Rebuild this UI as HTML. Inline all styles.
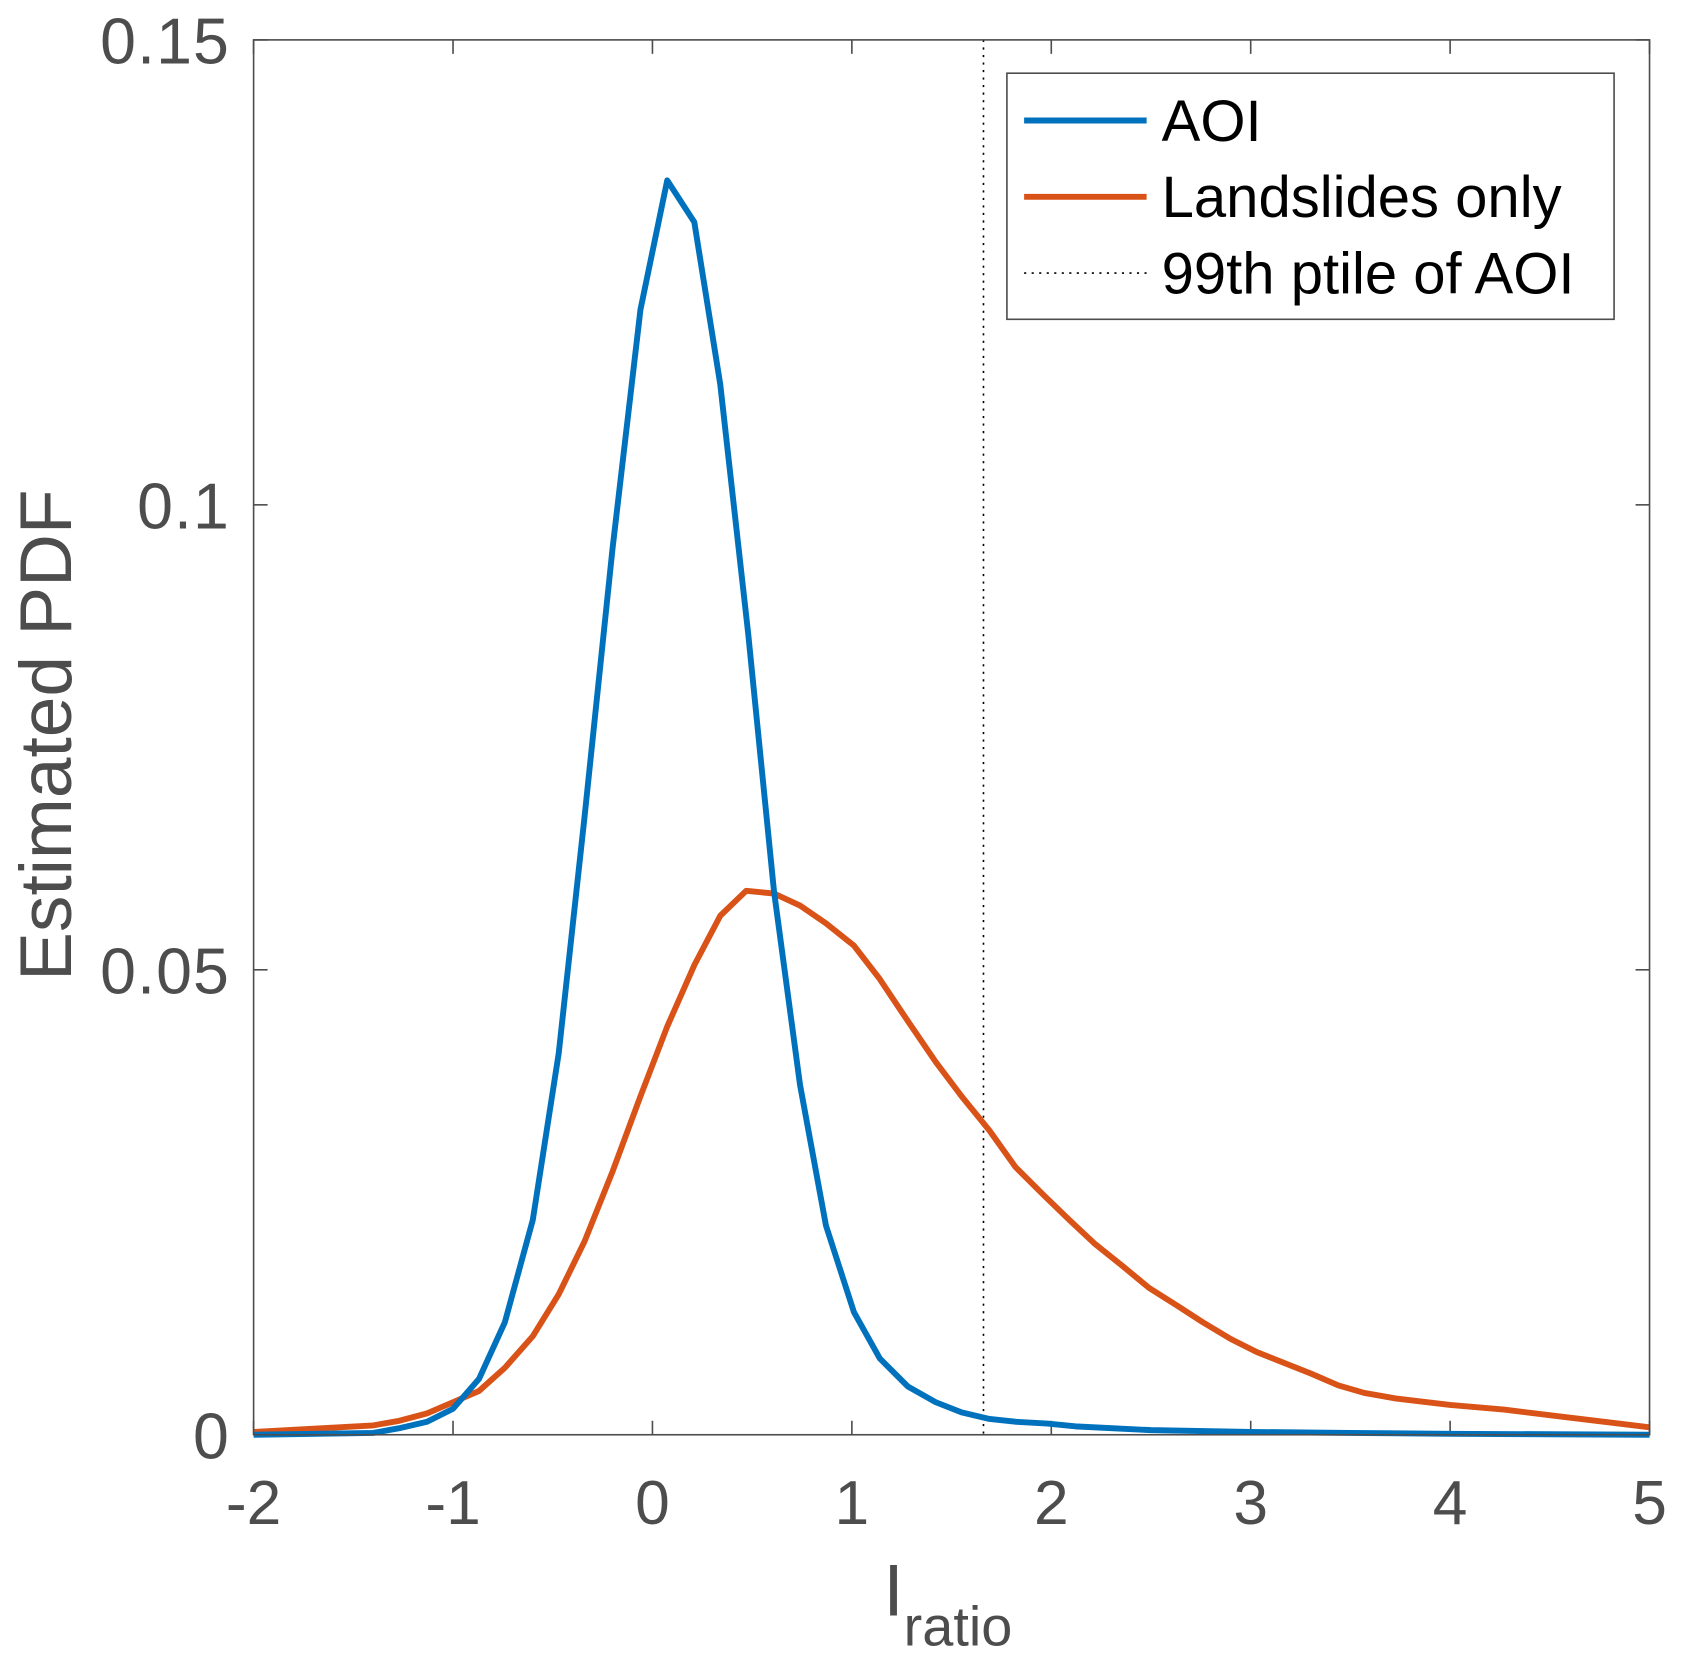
<!DOCTYPE html>
<html><head><meta charset="utf-8"><style>
html,body{margin:0;padding:0;background:#fff;}
svg{display:block;}
text{font-family:"Liberation Sans",sans-serif;}
</style></head><body>
<svg id="chart" width="1685" height="1667" viewBox="0 0 1568 1551" xmlns="http://www.w3.org/2000/svg">
<rect x="0" y="0" width="1568" height="1551" fill="#fff"/>
<g id="plot"></g>
</svg>
<script>
const aoiX=[-2,-1.4,-1.27,-1.13,-1.0,-0.87,-0.74,-0.6,-0.47,-0.34,-0.2,-0.06,0.074,0.21,0.34,0.48,0.61,0.74,0.87,1.01,1.14,1.28,1.42,1.55,1.69,1.82,1.98,2.12,2.5,3,3.5,4,5];
const aoiY=[0,0.0002,0.0007,0.0014,0.0028,0.006,0.0121,0.0231,0.041,0.0665,0.0953,0.121,0.1349,0.1304,0.113,0.0862,0.0584,0.0376,0.0225,0.0132,0.0082,0.0052,0.0035,0.0024,0.0017,0.0014,0.0012,0.0009,0.0005,0.0003,0.0002,0.0001,0];
const lsX=[-2,-1.4,-1.27,-1.13,-1.0,-0.87,-0.74,-0.6,-0.47,-0.34,-0.2,-0.06,0.074,0.21,0.34,0.47,0.61,0.74,0.87,1.01,1.14,1.28,1.42,1.55,1.69,1.82,1.96,2.09,2.22,2.36,2.49,2.63,2.76,2.9,3.03,3.17,3.3,3.44,3.57,3.73,4.0,4.27,4.54,4.81,5];
const lsY=[0.0003,0.001,0.0015,0.0023,0.0035,0.0047,0.0072,0.0106,0.0151,0.0208,0.0283,0.0364,0.0439,0.0505,0.0558,0.0585,0.0582,0.0569,0.055,0.0526,0.049,0.0445,0.0401,0.0364,0.0327,0.0288,0.0258,0.0231,0.0205,0.0181,0.0158,0.0139,0.0121,0.0103,0.0089,0.0077,0.0066,0.0053,0.0045,0.0039,0.0032,0.0027,0.002,0.0013,0.0008];
const ptile99=[1.66];
const xTicks=[-2,-1,0,1,2,3,4,5];
const yTicks=[0,0.05,0.1,0.15];
const yTickLabels=["0","0.05","0.1","0.15"];

const L=236,R=1535,T=37,B=1335;
const sx=v=>L+(v+2)/7*(R-L);
const sy=v=>B-v/0.15*(B-T);
const NS="http://www.w3.org/2000/svg";
const g=document.getElementById('plot');
function mk(tag,attrs,parent){const e=document.createElementNS(NS,tag);for(const k in attrs)e.setAttribute(k,attrs[k]);(parent||g).appendChild(e);return e;}
const ax="#4d4d4d";
xTicks.forEach((t,i)=>{
  mk('line',{x1:sx(t),x2:sx(t),y1:B,y2:B-13,stroke:ax,'stroke-width':1.5});
  mk('line',{x1:sx(t),x2:sx(t),y1:T,y2:T+13,stroke:ax,'stroke-width':1.5});
  const tx=mk('text',{x:sx(t),y:B+83,'text-anchor':'middle','font-size':58,fill:ax});
  tx.textContent=String(t);
  
  
});
yTicks.forEach((t,i)=>{
  mk('line',{x1:L,x2:L+13,y1:sy(t),y2:sy(t),stroke:ax,'stroke-width':1.5});
  mk('line',{x1:R,x2:R-13,y1:sy(t),y2:sy(t),stroke:ax,'stroke-width':1.5});
  const tx=mk('text',{x:L-22,y:sy(t)+22,'text-anchor':'end','font-size':60,fill:ax,'letter-spacing':'1'});
  tx.textContent=yTickLabels[i];
  
  
});
const dl=mk('line',{x1:sx(ptile99[0]),x2:sx(ptile99[0]),y1:T,y2:B,stroke:'#000','stroke-width':1.5,'stroke-dasharray':'2,5'});


function pts(xs,ys){return xs.map((x,i)=>sx(x).toFixed(1)+','+sy(ys[i]).toFixed(1)).join(' ');}
const la=mk('polyline',{points:pts(lsX,lsY),fill:'none',stroke:'#d95319','stroke-width':5.5,'stroke-linejoin':'round'});


const aa=mk('polyline',{points:pts(aoiX,aoiY),fill:'none',stroke:'#0072bd','stroke-width':5.5,'stroke-linejoin':'round'});


const fr=mk('rect',{x:L,y:T,width:R-L,height:B-T,fill:'none',stroke:ax,'stroke-width':1.5});


const yl=mk('text',{x:0,y:0,transform:'translate(66,684) rotate(-90)','text-anchor':'middle','font-size':68,fill:ax});
yl.textContent='Estimated PDF';


const xl=mk('text',{x:822,y:1503,'font-size':68,fill:ax});


const t1=mk('tspan',{},xl);t1.textContent='I';
const t2=mk('tspan',{dy:28,'font-size':52},xl);t2.textContent='ratio';
const lg=mk('g',{});


mk('rect',{x:937,y:68,width:565,height:229,fill:'#fff',stroke:ax,'stroke-width':1.5},lg);
const entries=[['AOI','#0072bd',null],['Landslides only','#d95319',null],['99th ptile of AOI','#000','2,5']];
entries.forEach((e,i)=>{
  const y=112+i*71;
  const a={x1:953,x2:1067,y1:y,y2:y,stroke:e[1],'stroke-width':e[2]?1.5:5.5};
  if(e[2])a['stroke-dasharray']=e[2];
  mk('line',a,lg);
  const t=mk('text',{x:1081,y:y+19,'font-size':54,fill:'#000'},lg);
  t.textContent=e[0];
  
  
});
</script>
</body></html>
